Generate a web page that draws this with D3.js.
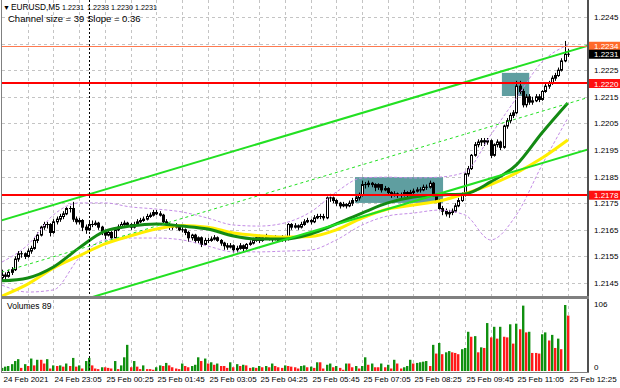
<!DOCTYPE html>
<html>
<head>
<meta charset="utf-8">
<script src="https://cdn.jsdelivr.net/npm/d3@7"></script>
<style>
  body { margin: 0; background: #fff; }
  svg { display: block; font-family: "Liberation Sans", Arial, sans-serif; }
</style>
</head>
<body>
<svg id="chart" width="620" height="388"></svg>
<script>
// EURUSD M5, 24 Feb 21:45 .. 25 Feb 12:25 (177 bars)
const dateLabels = ["24 Feb 2021", "24 Feb 23:05", "25 Feb 00:25", "25 Feb 01:45", "25 Feb 03:05", "25 Feb 04:25",
  "25 Feb 05:45", "25 Feb 07:05", "25 Feb 08:25", "25 Feb 09:45", "25 Feb 11:05", "25 Feb 12:25"];
const labelEvery = 16;   // bars between date labels
const gridEvery = 8;     // bars between vertical grid lines
const daySeparator = 27; // bar at 25 Feb 00:00

const priceTicks = [1.2145, 1.2155, 1.2165, 1.2175, 1.2185, 1.2195, 1.2205, 1.2215, 1.2225, 1.2235, 1.2245];

const open = [
  1.2147,1.2148,1.21475,1.2149,1.2150,1.2154,1.2156,1.2156,1.2155,1.2157,
  1.2158,1.2161,1.2163,1.2166,1.2167,1.2167,1.2164,1.2168,1.2169,1.2170,
  1.2171,1.2173,1.2173,1.2169,1.2168,1.21685,1.2166,1.2165,1.2167,1.2167,
  1.21675,1.2166,1.2164,1.2163,1.2164,1.2162,1.2165,1.2166,1.2167,1.21675,
  1.2167,1.2166,1.2167,1.2168,1.21685,1.2169,1.2170,1.21705,1.21715,1.2171,
  1.21705,1.2168,1.2167,1.2166,1.2166,1.21665,1.2165,1.2165,1.2164,1.2162,
  1.2163,1.2161,1.2162,1.21595,1.2161,1.2161,1.21615,1.2162,1.2161,1.2160,
  1.2159,1.21585,1.2159,1.21575,1.2158,1.2159,1.2158,1.21595,1.2160,1.2161,
  1.2162,1.2161,1.2162,1.21625,1.2162,1.21615,1.2162,1.2161,1.2162,1.21615,
  1.2167,1.2166,1.21665,1.2166,1.2167,1.2168,1.21685,1.2168,1.21695,1.2170,
  1.2170,1.21695,1.2177,1.2177,1.2176,1.2175,1.2174,1.21745,1.2174,1.2175,
  1.2176,1.2177,1.2178,1.2182,1.2182,1.21825,1.2182,1.2181,1.2182,1.2180,
  1.21805,1.2179,1.2178,1.21785,1.2178,1.2178,1.2179,1.2178,1.2179,1.21795,
  1.2180,1.2180,1.2181,1.2181,1.21825,1.2178,1.2176,1.2173,1.2172,1.2171,
  1.21715,1.2172,1.2174,1.2176,1.2178,1.2186,1.2188,1.2193,1.2197,1.2198,
  1.21985,1.2198,1.21985,1.2193,1.2197,1.2198,1.2196,1.2204,1.2206,1.2208,
  1.2209,1.2219,1.2217,1.2212,1.2215,1.2213,1.22135,1.2215,1.2214,1.2217,
  1.2219,1.2220,1.2222,1.2223,1.2225,1.22285,1.2231];
const high = [
  1.2150,1.2149,1.2150,1.2151,1.2155,1.2157,1.2157,1.21565,1.2158,1.2159,
  1.2162,1.2164,1.21665,1.2168,1.2168,1.21675,1.2169,1.2170,1.2171,1.2172,
  1.21735,1.2174,1.21755,1.2170,1.21695,1.2169,1.2167,1.2168,1.21685,1.21685,
  1.2168,1.21665,1.2165,1.2165,1.21645,1.2166,1.2167,1.2168,1.21685,1.2168,
  1.21675,1.2168,1.2169,1.21695,1.2170,1.2171,1.21715,1.21725,1.21725,1.2172,
  1.2171,1.2169,1.21675,1.2167,1.21675,1.2167,1.2166,1.21655,1.21645,1.21635,
  1.21635,1.21625,1.21625,1.2162,1.2162,1.21625,1.2163,1.21625,1.21615,1.21605,
  1.2160,1.2160,1.21595,1.2159,1.2160,1.21595,1.2160,1.2161,1.2162,1.2163,
  1.21625,1.2163,1.21635,1.2163,1.21625,1.2163,1.21625,1.2163,1.21625,1.21675,
  1.21675,1.21675,1.2167,1.2168,1.2169,1.21695,1.2169,1.21705,1.2171,1.2171,
  1.2171,1.21775,1.21785,1.21775,1.21765,1.21755,1.21755,1.2175,1.2176,1.2177,
  1.2178,1.2179,1.21835,1.2183,1.21835,1.2183,1.21825,1.21825,1.2182,1.21815,
  1.2181,1.21795,1.21795,1.2179,1.2179,1.2180,1.21795,1.2180,1.21805,1.2181,
  1.2181,1.2182,1.2182,1.21835,1.2183,1.21785,1.21765,1.2174,1.2173,1.21725,
  1.2173,1.2175,1.2177,1.2179,1.21865,1.2189,1.21935,1.2198,1.2199,1.21995,
  1.21995,1.21995,1.2199,1.21975,1.2199,1.21985,1.22045,1.2207,1.2209,1.2210,
  1.2221,1.2221,1.2218,1.2216,1.2216,1.2215,1.2216,1.2216,1.22175,1.2220,
  1.2221,1.2223,1.2224,1.2226,1.22295,1.2236,1.2233];
const low = [
  1.2146,1.2146,1.2147,1.2148,1.21495,1.2153,1.21545,1.2154,1.21545,1.2156,
  1.21575,1.2160,1.21625,1.2165,1.21655,1.21625,1.21635,1.2167,1.2168,1.2169,
  1.21705,1.21715,1.2168,1.2167,1.2167,1.21645,1.21635,1.21645,1.2166,1.21665,
  1.2165,1.2163,1.21615,1.21625,1.2161,1.21615,1.21645,1.21655,1.21665,1.2166,
  1.2165,1.21655,1.21665,1.21675,1.2168,1.21685,1.21695,1.2170,1.21705,1.2170,
  1.21675,1.21665,1.2165,1.2165,1.21655,1.21645,1.2164,1.2163,1.21605,1.2161,
  1.2160,1.2160,1.21585,1.2159,1.2160,1.21605,1.2161,1.21605,1.2159,1.21575,
  1.21575,1.2158,1.21565,1.21565,1.21575,1.2157,1.21575,1.2159,1.21595,1.21605,
  1.2160,1.21605,1.21615,1.2161,1.21605,1.2161,1.21605,1.21605,1.21605,1.2161,
  1.2165,1.21655,1.2165,1.21655,1.21665,1.21675,1.2167,1.21675,1.2169,1.2169,
  1.21685,1.2169,1.21755,1.2175,1.2174,1.2173,1.21735,1.2173,1.21735,1.2174,
  1.21755,1.2176,1.21775,1.21805,1.2181,1.2181,1.21795,1.2180,1.2179,1.21795,
  1.2178,1.2177,1.21775,1.2177,1.2177,1.21775,1.2177,1.21775,1.21785,1.2179,
  1.2179,1.21795,1.2180,1.21805,1.21775,1.21755,1.21725,1.21705,1.2170,1.21695,
  1.21705,1.21715,1.21735,1.21755,1.21775,1.2185,1.21875,1.21925,1.2196,1.21965,
  1.21965,1.2197,1.2192,1.21925,1.2196,1.2195,1.21955,1.2203,1.2205,1.2207,
  1.22085,1.2216,1.2211,1.2211,1.2212,1.2212,1.2213,1.2213,1.22135,1.22165,
  1.2218,1.22195,1.2221,1.22225,1.22245,1.2228,1.2230];
const close = [
  1.2148,1.21475,1.2149,1.2150,1.2154,1.2156,1.2156,1.2155,1.2157,1.2158,
  1.2161,1.2163,1.2166,1.2167,1.2167,1.2164,1.2168,1.2169,1.2170,1.2171,
  1.2173,1.2173,1.2169,1.2168,1.21685,1.2166,1.2165,1.2167,1.2167,1.21675,
  1.2166,1.2164,1.2163,1.2164,1.2162,1.2165,1.2166,1.2167,1.21675,1.2167,
  1.2166,1.2167,1.2168,1.21685,1.2169,1.2170,1.21705,1.21715,1.2171,1.21705,
  1.2168,1.2167,1.2166,1.2166,1.21665,1.2165,1.2165,1.2164,1.2162,1.2163,
  1.2161,1.2162,1.21595,1.2161,1.2161,1.21615,1.2162,1.2161,1.2160,1.2159,
  1.21585,1.2159,1.21575,1.2158,1.2159,1.2158,1.21595,1.2160,1.2161,1.2162,
  1.2161,1.2162,1.21625,1.2162,1.21615,1.2162,1.2161,1.2162,1.21615,1.2167,
  1.2166,1.21665,1.2166,1.2167,1.2168,1.21685,1.2168,1.21695,1.2170,1.2170,
  1.21695,1.2177,1.2177,1.2176,1.2175,1.2174,1.21745,1.2174,1.2175,1.2176,
  1.2177,1.2178,1.2182,1.2182,1.21825,1.2182,1.2181,1.2182,1.2180,1.21805,
  1.2179,1.2178,1.21785,1.2178,1.2178,1.2179,1.2178,1.2179,1.21795,1.2180,
  1.2180,1.2181,1.2181,1.21825,1.2178,1.2176,1.2173,1.2172,1.2171,1.21715,
  1.2172,1.2174,1.2176,1.2178,1.2186,1.2188,1.2193,1.2197,1.2198,1.21985,
  1.2198,1.21985,1.2193,1.2197,1.2198,1.2196,1.2204,1.2206,1.2208,1.2209,
  1.2219,1.2217,1.2212,1.2215,1.2213,1.22135,1.2215,1.2214,1.2217,1.2219,
  1.2220,1.2222,1.2223,1.2225,1.22285,1.2231,1.2231];
const volume = [
  5,7,8,11,16,19,5,11,8,20,
  9,18,18,12,19,4,9,8,9,7,
  12,8,21,7,9,4,16,21,9,4,
  3,6,6,5,4,16,3,9,22,42,
  6,16,7,3,9,3,3,2,6,9,
  8,13,9,6,4,3,12,8,6,8,
  10,22,16,20,12,14,10,12,8,8,
  5,14,6,11,8,10,9,5,6,5,
  8,6,8,6,12,8,6,5,9,8,
  7,6,4,8,9,6,7,5,14,14,
  4,10,12,6,8,5,2,12,12,6,
  8,4,8,22,10,12,6,6,12,6,
  10,4,18,12,4,6,8,18,12,13,
  14,15,16,8,42,28,45,27,30,32,
  30,29,27,35,37,63,55,56,30,38,
  37,77,54,71,52,71,55,54,75,44,
  76,67,105,62,63,29,29,28,59,62,
  49,58,37,52,35,106,89];
const volumeMax = 106;

// indicator readings, every 8th bar
const maIdx = [0,8,16,24,32,40,48,56,64,72,80,88,96,104,112,120,128,136,144,152,160,168,176];
const maGreen = [1.21458,1.21469,1.2151,1.21582,1.21645,1.21664,1.21672,1.21664,1.21653,1.21627,1.21615,1.21615,
  1.21634,1.21672,1.21713,1.21751,1.21773,1.21781,1.21785,1.2183,1.21894,1.22015,1.22127];
const maYellow = [1.21401,1.21446,1.21506,1.21552,1.21597,1.21627,1.21653,1.21666,1.2166,1.21638,1.21628,1.21623,
  1.21625,1.2165,1.21694,1.21728,1.21743,1.21758,1.21786,1.2182,1.21864,1.2192,1.21988];
const bandUpper = [1.21529,1.21593,1.21706,1.21751,1.21751,1.21736,1.21728,1.21717,1.21694,1.21668,1.21664,1.21676,
  1.21717,1.21792,1.21845,1.21848,1.21845,1.21848,1.21867,1.22006,1.22145,1.22281,1.22345];
const bandLower = [1.21442,1.21416,1.21424,1.21544,1.21612,1.21619,1.21619,1.21612,1.21589,1.21567,1.21567,1.2157,
  1.21574,1.21612,1.21668,1.21702,1.21713,1.21724,1.21706,1.21612,1.21706,1.21894,1.2207];

// regression channel: upper line at bar 0, slope per bar, width
const channelStart = 1.21686;
const channelSlope = 0.000036;
const channelSize = 0.0039;

const redLevels = [1.2220, 1.2178];
const askLevel = 1.2234;
const bidLevel = 1.2231;

// rectangles: [from bar, to bar, top price, bottom price]
const boxes = [[109.8, 137.2, 1.21848, 1.21751], [155.5, 164.0, 1.2224, 1.22153]];

// ---------------------------------------------------------------
const svg = d3.select("#chart");
const right = 587;
const mainTop = 0, mainBottom = 296;
const volTop = 300, volBottom = 372;

const x = d3.scaleLinear().domain([0, 176]).range([2, 567.8]);
const y = d3.scaleLinear().domain([1.2145, 1.2245]).range([283, 17]);
const yv = d3.scaleLinear().domain([0, volumeMax]).range([371, 305]);

const defs = svg.append("defs");
defs.append("clipPath").attr("id", "clipMain").append("rect")
  .attr("x", 2).attr("y", mainTop).attr("width", right - 2).attr("height", mainBottom - mainTop);
defs.append("clipPath").attr("id", "clipVol").append("rect")
  .attr("x", 2).attr("y", volTop).attr("width", right - 2).attr("height", volBottom - volTop - 1);

const gMain = svg.append("g").attr("clip-path", "url(#clipMain)");
const gVol = svg.append("g").attr("clip-path", "url(#clipVol)");

// grid
const gridBars = d3.range(gridEvery, 177, gridEvery);
[gMain, gVol].forEach((g, k) => {
  g.append("g").selectAll("line").data(gridBars).join("line")
    .attr("x1", d => Math.round(x(d)) + 0.5).attr("x2", d => Math.round(x(d)) + 0.5)
    .attr("y1", k ? volTop : mainTop).attr("y2", k ? volBottom : mainBottom)
    .attr("stroke", "#c4c4c4").attr("stroke-dasharray", "3,3");
});
gMain.append("g").selectAll("line").data(priceTicks).join("line")
  .attr("x1", 2).attr("x2", right)
  .attr("y1", d => Math.round(y(d)) + 0.5).attr("y2", d => Math.round(y(d)) + 0.5)
  .attr("stroke", "#c4c4c4").attr("stroke-dasharray", "3,3");

// rectangles (background objects)
gMain.append("g").selectAll("rect").data(boxes).join("rect")
  .attr("x", d => x(d[0])).attr("width", d => x(d[1]) - x(d[0]))
  .attr("y", d => y(d[2])).attr("height", d => y(d[3]) - y(d[2]))
  .attr("fill", "#5f9ea0");

// candles
const bars = d3.range(close.length);
const cx = i => Math.round(x(i)) + 0.5;
gMain.append("g").selectAll("line").data(bars).join("line")
  .attr("x1", cx).attr("x2", cx)
  .attr("y1", i => y(high[i])).attr("y2", i => y(low[i]))
  .attr("stroke", "#000").attr("stroke-width", 1);
gMain.append("g").selectAll("rect").data(bars).join("rect")
  .attr("x", i => cx(i) - 1)
  .attr("width", 2)
  .attr("y", i => y(Math.max(open[i], close[i])))
  .attr("height", i => Math.max(0.01, Math.abs(y(open[i]) - y(close[i]))))
  .attr("fill", i => close[i] > open[i] ? "#fff" : "#000")
  .attr("stroke", "#000").attr("stroke-width", 1);

// indicators
const ind = d3.line().x((d, k) => x(maIdx[k])).y(d => y(d)).curve(d3.curveMonotoneX);
[bandUpper, bandLower].forEach(s => {
  gMain.append("path").attr("d", ind(s)).attr("fill", "none")
    .attr("stroke", "#c48de6").attr("stroke-width", 1).attr("stroke-dasharray", "3,2");
});
gMain.append("path").attr("d", ind(maYellow)).attr("fill", "none")
  .attr("stroke", "#ffee00").attr("stroke-width", 3);
gMain.append("path").attr("d", ind(maGreen)).attr("fill", "none")
  .attr("stroke", "#138a13").attr("stroke-width", 3);

// channel
const chanBars = [-2, 185];
const chan = off => d3.line().x(d => x(d)).y(d => y(channelStart + channelSlope * d - off));
gMain.append("path").attr("d", chan(0)(chanBars)).attr("stroke", "#22e022").attr("stroke-width", 2);
gMain.append("path").attr("d", chan(channelSize)(chanBars)).attr("stroke", "#22e022").attr("stroke-width", 2);
gMain.append("path").attr("d", chan(channelSize / 2)(chanBars)).attr("stroke", "#22e022")
  .attr("stroke-width", 1).attr("stroke-dasharray", "3,3");

// horizontal levels
gMain.append("line").attr("x1", 2).attr("x2", right)
  .attr("y1", Math.round(y(askLevel)) + 0.5).attr("y2", Math.round(y(askLevel)) + 0.5)
  .attr("stroke", "#ff7a50").attr("stroke-width", 1);
gMain.append("g").selectAll("line").data(redLevels).join("line")
  .attr("x1", 2).attr("x2", right)
  .attr("y1", d => Math.round(y(d))).attr("y2", d => Math.round(y(d)))
  .attr("stroke", "#ff0000").attr("stroke-width", 2);

// volumes
gVol.append("g").selectAll("rect").data(bars).join("rect")
  .attr("x", i => Math.round(x(i)) - 1).attr("width", 2.4)
  .attr("y", i => yv(volume[i])).attr("height", i => yv(0) - yv(volume[i]))
  .attr("fill", i => (i === 0 || volume[i] > volume[i - 1]) ? "#109010" : "#ff1a1a");

// day separator
svg.append("line").attr("x1", cx(daySeparator)).attr("x2", cx(daySeparator))
  .attr("y1", 0).attr("y2", volBottom)
  .attr("stroke", "#000").attr("stroke-dasharray", "2,2");

// frame
svg.append("line").attr("x1", 1.5).attr("x2", 1.5).attr("y1", 0).attr("y2", volBottom + 1).attr("stroke", "#808080");
svg.append("line").attr("x1", right + 1).attr("x2", right + 1).attr("y1", 0).attr("y2", volBottom + 1)
  .attr("stroke", "#505050").attr("stroke-width", 2);
svg.append("rect").attr("x", 1).attr("y", mainBottom).attr("width", right + 1).attr("height", 3).attr("fill", "#808080");
svg.append("line").attr("x1", 1).attr("x2", right + 2).attr("y1", volBottom + 0.5).attr("y2", volBottom + 0.5).attr("stroke", "#808080");

// price axis
const axisFont = 8;
const captionFont = 9.5;
const tags = [
  { v: askLevel, bg: "#ff6a2a" },
  { v: bidLevel, bg: "#000" },
  { v: redLevels[0], bg: "#ff1010" },
  { v: redLevels[1], bg: "#ff1010" }
];
const hidden = t => tags.some(g => Math.abs(y(g.v) - y(t)) < 6);
svg.append("g").selectAll("text").data(priceTicks.filter(t => !hidden(t))).join("text")
  .attr("x", 594).attr("y", d => y(d) + 3)
  .attr("font-size", axisFont).text(d => d.toFixed(4));
const tagG = svg.append("g").selectAll("g").data(tags).join("g")
  .attr("transform", d => `translate(589,${y(d.v)})`);
tagG.append("rect").attr("x", 0).attr("y", -4.5).attr("width", 31).attr("height", 9).attr("fill", d => d.bg);
tagG.append("text").attr("x", 5).attr("y", 3).attr("fill", "#fff")
  .attr("font-size", axisFont).text(d => d.v.toFixed(4));

// volume axis
svg.append("text").attr("x", 594).attr("y", yv(volumeMax) + 2).attr("font-size", axisFont).text(volumeMax);
svg.append("text").attr("x", 594).attr("y", yv(0) - 1).attr("font-size", axisFont).text(0);

// time axis
svg.append("g").selectAll("text").data(dateLabels).join("text")
  .attr("x", (d, k) => cx(k * labelEvery) + 1).attr("y", 382)
  .attr("font-size", axisFont).text(d => d);

// captions: symbol line with OHLC of the last bar, spaced like the terminal does
const ohlc = [open[176], high[176], low[176], close[176]].map(v => v.toFixed(4));
const head = svg.append("g").attr("font-size", 7.2);
head.append("text").attr("x", 3).attr("y", 10).attr("font-size", 7).text("\u25BC");
head.append("text").attr("x", 11).attr("y", 10).attr("font-size", 8.3).text("EURUSD,M5");
head.selectAll("text.v").data(ohlc).join("text").attr("class", "v")
  .attr("x", (d, k) => [62, 87, 111, 135][k]).attr("y", 10).text(d => d);
svg.append("text").attr("x", 8).attr("y", 22).attr("font-size", captionFont)
  .text(`Channel size = ${Math.round(channelSize * 10000)} Slope = ${(channelSlope * 10000).toFixed(2)}`);
svg.append("text").attr("x", 7).attr("y", 309).attr("font-size", axisFont + 0.5)
  .text("Volumes " + volume[176]);
</script>
</body>
</html>
